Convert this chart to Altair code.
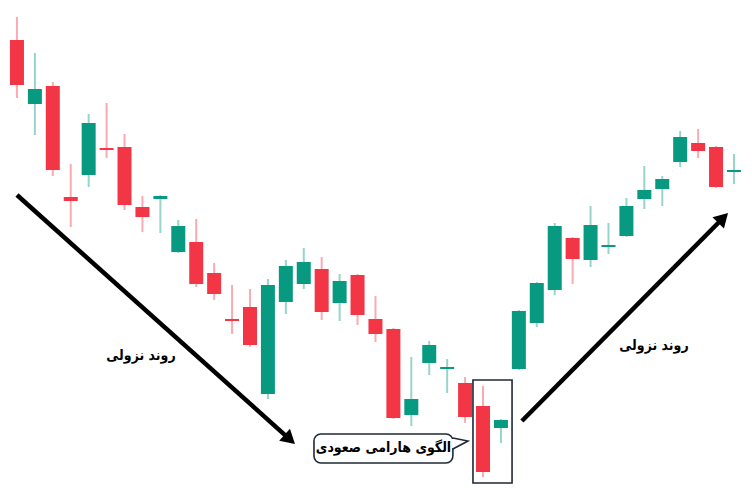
import math
import altair as alt
import pandas as pd

# ---- candle data (index, open, high, low, close) ----
idx = list(range(1, 42))
opens = [453, 389, 407, 296, 318, 345, 346, 286, 294, 241,
         251, 220, 174, 186, 99, 191, 209, 224, 190, 218,
         174, 164, 78, 130, 124, 110, 87, 65, 124, 170,
         203, 255, 233, 246, 257, 294, 304, 331, 350, 346, 321]
closes = [408, 404, 323, 292, 370, 343, 288, 276, 297, 267,
          209, 199, 172, 148, 208, 227, 231, 181, 212, 178,
          159, 75, 94, 148, 126, 76, 21, 73, 182, 210,
          267, 234, 268, 248, 287, 303, 314, 356, 342, 306, 323]
highs = [476, 440, 411, 329, 379, 390, 359, 297, 298, 273,
         274, 230, 208, 204, 214, 233, 245, 236, 219, 219,
         197, 165, 136, 152, 134, 116, 107, 74, 183, 211,
         270, 256, 287, 270, 295, 327, 317, 362, 364, 347, 339]
lows = [395, 358, 317, 266, 306, 335, 283, 261, 260, 240,
        206, 193, 159, 146, 94, 179, 204, 173, 172, 168,
        151, 74, 67, 118, 100, 70, 16, 50, 123, 166,
        198, 209, 226, 239, 256, 284, 287, 326, 335, 305, 309]

# ---- annotation data ----
arrow_start_x = [1.0, 29.17]
arrow_start_y = [298, 72]
arrow_tip_x = [16.51, 40.67]
arrow_tip_y = [49, 280]

label_text = ["روند نزولی", "روند نزولی"]
label_x = [7.92, 36.54]
label_y = [137, 147]

callout_text = "الگوی هارامی صعودی"
callout_box = {"x": 17.57, "x2": 25.32, "y": 59, "y2": 30}
callout_ptr_x = [25.32, 26.16, 25.32]
callout_ptr_y = [55, 52, 44]
callout_text_pos = (21.45, 45)

harami_box = {"x": 26.44, "x2": 28.62, "y": 113, "y2": 10}

GREEN = "#089981"
RED = "#F23645"
DARK = "#1e2a36"
FONT = "DejaVu Sans Condensed, DejaVu Sans"
FSIZE = 14

W, H = 736, 485
X_DOMAIN = [0.5, 41.56]
Y_DOMAIN = [0, 485]

xs = alt.Scale(domain=X_DOMAIN, nice=False, zero=False, padding=0)
ys = alt.Scale(domain=Y_DOMAIN, nice=False, zero=False, padding=0)

df = pd.DataFrame({"i": idx, "open": opens, "close": closes,
                   "high": highs, "low": lows})
df["dir"] = ["up" if c >= o else "down" for o, c in zip(opens, closes)]

color = alt.Color("dir:N", scale=alt.Scale(domain=["up", "down"], range=[GREEN, RED]),
                  legend=None)

base = alt.Chart(df)
wicks = base.mark_rule(strokeWidth=2, opacity=0.42).encode(
    x=alt.X("i:Q", scale=xs, axis=None),
    y=alt.Y("low:Q", scale=ys, axis=None),
    y2="high:Q",
    color=color,
)
bodies = base.mark_bar(size=14).encode(
    x=alt.X("i:Q", scale=xs, axis=None),
    y=alt.Y("open:Q", scale=ys, axis=None),
    y2="close:Q",
    color=color,
)

# arrows
PX_X = W / (X_DOMAIN[1] - X_DOMAIN[0])
PX_Y = H / (Y_DOMAIN[1] - Y_DOMAIN[0])
HEAD_SIZE = 260
back = math.sqrt(3) * (math.sqrt(HEAD_SIZE) / 2) / 2
rows = []
for sx, sy, tx, ty in zip(arrow_start_x, arrow_start_y, arrow_tip_x, arrow_tip_y):
    dxp = (tx - sx) * PX_X
    dyp = -(ty - sy) * PX_Y
    L = math.hypot(dxp, dyp)
    ux, uy = dxp / L, dyp / L
    cx = tx - back * ux / PX_X
    cy = ty + back * uy / PX_Y
    ang = (90 + math.degrees(math.atan2(dyp, dxp))) % 360
    rows.append({"sx": sx, "sy": sy, "cx": cx, "cy": cy, "ang": ang})
arr = pd.DataFrame(rows)

shafts = alt.Chart(arr).mark_rule(strokeWidth=4.5, color="black").encode(
    x=alt.X("sx:Q", scale=xs, axis=None),
    y=alt.Y("sy:Q", scale=ys, axis=None),
    x2="cx:Q", y2="cy:Q",
)
heads = alt.Chart(arr).mark_point(shape="triangle-up", filled=True, size=HEAD_SIZE,
                                  color="black", opacity=1).encode(
    x=alt.X("cx:Q", scale=xs, axis=None),
    y=alt.Y("cy:Q", scale=ys, axis=None),
    angle=alt.Angle("ang:Q", scale=None),
)

labels = alt.Chart(pd.DataFrame({"t": label_text, "x": label_x, "y": label_y})).mark_text(
    font=FONT, fontWeight="bold", fontSize=FSIZE, color="black", baseline="middle",
    align="center",
).encode(
    x=alt.X("x:Q", scale=xs, axis=None),
    y=alt.Y("y:Q", scale=ys, axis=None),
    text="t:N",
)

hbox = alt.Chart(pd.DataFrame([harami_box])).mark_rect(
    fill="white", fillOpacity=0, stroke=DARK, strokeWidth=1.6,
).encode(
    x=alt.X("x:Q", scale=xs, axis=None), x2="x2:Q",
    y=alt.Y("y:Q", scale=ys, axis=None), y2="y2:Q",
)

cbox = alt.Chart(pd.DataFrame([callout_box])).mark_rect(
    fill="white", stroke=DARK, strokeWidth=1.6, cornerRadius=7,
).encode(
    x=alt.X("x:Q", scale=xs, axis=None), x2="x2:Q",
    y=alt.Y("y:Q", scale=ys, axis=None), y2="y2:Q",
)
gap = alt.Chart(pd.DataFrame({"x": [callout_ptr_x[0]], "y": [callout_ptr_y[0] - 1],
                              "y2": [callout_ptr_y[2] + 1]})).mark_rule(
    color="white", strokeWidth=3,
).encode(
    x=alt.X("x:Q", scale=xs, axis=None),
    y=alt.Y("y:Q", scale=ys, axis=None), y2="y2:Q",
)
ptr = alt.Chart(pd.DataFrame({"x": callout_ptr_x, "y": callout_ptr_y, "o": [0, 1, 2]})).mark_line(
    color=DARK, strokeWidth=1.6, strokeJoin="miter",
).encode(
    x=alt.X("x:Q", scale=xs, axis=None),
    y=alt.Y("y:Q", scale=ys, axis=None),
    order="o:Q",
)
ctext = alt.Chart(pd.DataFrame({"t": [callout_text], "x": [callout_text_pos[0]],
                                "y": [callout_text_pos[1]]})).mark_text(
    font=FONT, fontWeight="bold", fontSize=FSIZE, color="black", baseline="middle",
    align="center",
).encode(
    x=alt.X("x:Q", scale=xs, axis=None),
    y=alt.Y("y:Q", scale=ys, axis=None),
    text="t:N",
)

chart = alt.layer(
    wicks, bodies, hbox, shafts, heads, labels, cbox, gap, ptr, ctext
).properties(
    width=W, height=H, padding=0, autosize="none", background="white",
).configure_view(strokeWidth=0)

chart.save("out.html", embed_options={"renderer": "svg", "actions": False})
